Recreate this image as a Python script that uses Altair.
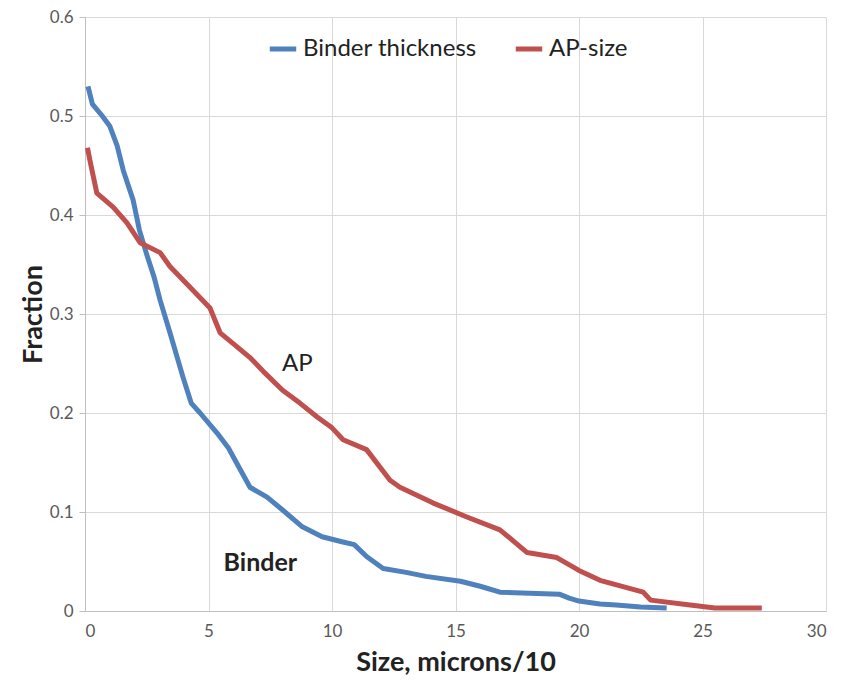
import altair as alt
import pandas as pd

# Binder thickness series
binder_x = [0.12, 0.3, 0.7, 1.0, 1.3, 1.55, 1.95, 2.2, 2.5, 2.8, 3.04, 3.44, 3.97, 4.3, 4.66, 5.34, 5.8,
            6.15, 6.68, 7.37, 8.0, 8.8, 9.6, 10.4, 10.9, 11.4, 12.07, 13.0, 13.8, 15.2, 16.0, 16.8,
            18.0, 19.2, 19.6, 20.0, 20.85, 21.5, 22.5, 23.55]
binder_y = [0.53, 0.512, 0.5, 0.49, 0.47, 0.445, 0.415, 0.385, 0.36, 0.337, 0.314, 0.281, 0.236, 0.21, 0.2,
            0.18, 0.165, 0.149, 0.125, 0.115, 0.102, 0.085, 0.075, 0.07, 0.067, 0.055, 0.043, 0.039,
            0.035, 0.03, 0.025, 0.019, 0.018, 0.017, 0.013, 0.01, 0.007, 0.006, 0.004, 0.003]

# AP-size series
ap_x = [0.1, 0.2, 0.48, 1.14, 1.7, 2.23, 3.04, 3.44, 4.37, 5.06, 5.47, 6.0, 6.68, 7.3, 8.0, 8.7, 9.4,
        10.0, 10.45, 11.4, 12.35, 12.75, 14.1, 15.46, 16.8, 17.9, 19.1, 20.0, 20.85, 22.6, 22.9, 24.5,
        25.5, 27.4]
ap_y = [0.468, 0.455, 0.422, 0.408, 0.392, 0.372, 0.362, 0.348, 0.324, 0.306, 0.281, 0.27, 0.256, 0.24,
        0.223, 0.21, 0.196, 0.185, 0.173, 0.163, 0.132, 0.125, 0.109, 0.095, 0.082, 0.059, 0.054, 0.041,
        0.031, 0.019, 0.011, 0.006, 0.003, 0.003]

series_names = ["Binder thickness", "AP-size"]
series_colors = ["#4F81BD", "#C0504D"]

# annotations
ann_text = ["AP", "Binder"]
ann_x = [8.6, 7.1]
ann_y = [0.25, 0.048]
ann_weight = ["normal", "bold"]

rows = []
for i, (x, y) in enumerate(zip(binder_x, binder_y)):
    rows.append({"series": series_names[0], "x": x, "y": y, "order": i})
for i, (x, y) in enumerate(zip(ap_x, ap_y)):
    rows.append({"series": series_names[1], "x": x, "y": y, "order": i})
df = pd.DataFrame(rows)

ann = pd.DataFrame({"text": ann_text, "x": ann_x, "y": ann_y, "weight": ann_weight})

FONT = "Lato"

xscale = alt.Scale(domain=[0, 30], nice=False)
yscale = alt.Scale(domain=[0, 0.6], nice=False)

lines = alt.Chart(df).mark_line(strokeWidth=5, strokeJoin="round").encode(
    x=alt.X("x:Q", scale=xscale,
            axis=alt.Axis(title="Size, microns/10", values=[0, 5, 10, 15, 20, 25, 30],
                          ticks=False, labelPadding=12, titlePadding=10)),
    y=alt.Y("y:Q", scale=yscale,
            axis=alt.Axis(title="Fraction", values=[0, 0.1, 0.2, 0.3, 0.4, 0.5, 0.6],
                          labelExpr="datum.value == 0 ? '0' : format(datum.value, '.1f')",
                          tickSize=6, labelPadding=6, titlePadding=2)),
    color=alt.Color("series:N", scale=alt.Scale(domain=series_names, range=series_colors),
                    legend=alt.Legend(title=None, orient="none", legendX=182, legendY=16,
                                      direction="horizontal", symbolType="stroke",
                                      symbolStrokeWidth=5, symbolSize=700,
                                      labelFontSize=24, labelFont=FONT, labelColor="#222222",
                                      labelLimit=400, columnPadding=28, labelOffset=4)),
    order="order:Q",
)

normal_txt = alt.Chart(ann[ann.weight == "normal"]).mark_text(
    fontSize=24, font=FONT, color="#222222").encode(
    x="x:Q", y="y:Q", text="text:N")
bold_txt = alt.Chart(ann[ann.weight == "bold"]).mark_text(
    fontSize=25, font=FONT, fontWeight="bold", color="#222222").encode(
    x="x:Q", y="y:Q", text="text:N")

chart = alt.layer(lines, normal_txt, bold_txt).properties(
    width=741, height=594,
    autosize=alt.AutoSizeParams(type="none"),
    padding={"left": 85, "top": 17, "right": 26, "bottom": 78},
).configure_view(stroke=None).configure_axis(
    gridColor="#d9d9d9", gridWidth=1, domainColor="#bfbfbf", tickColor="#bfbfbf",
    labelFont=FONT, labelFontSize=17, labelColor="#595959",
    titleFont=FONT, titleFontSize=27, titleFontWeight="bold", titleColor="#222222",
).configure_axisY(domain=True).configure_axisX(domain=True)

chart.save("out.html", embed_options={"renderer": "svg", "actions": False})
